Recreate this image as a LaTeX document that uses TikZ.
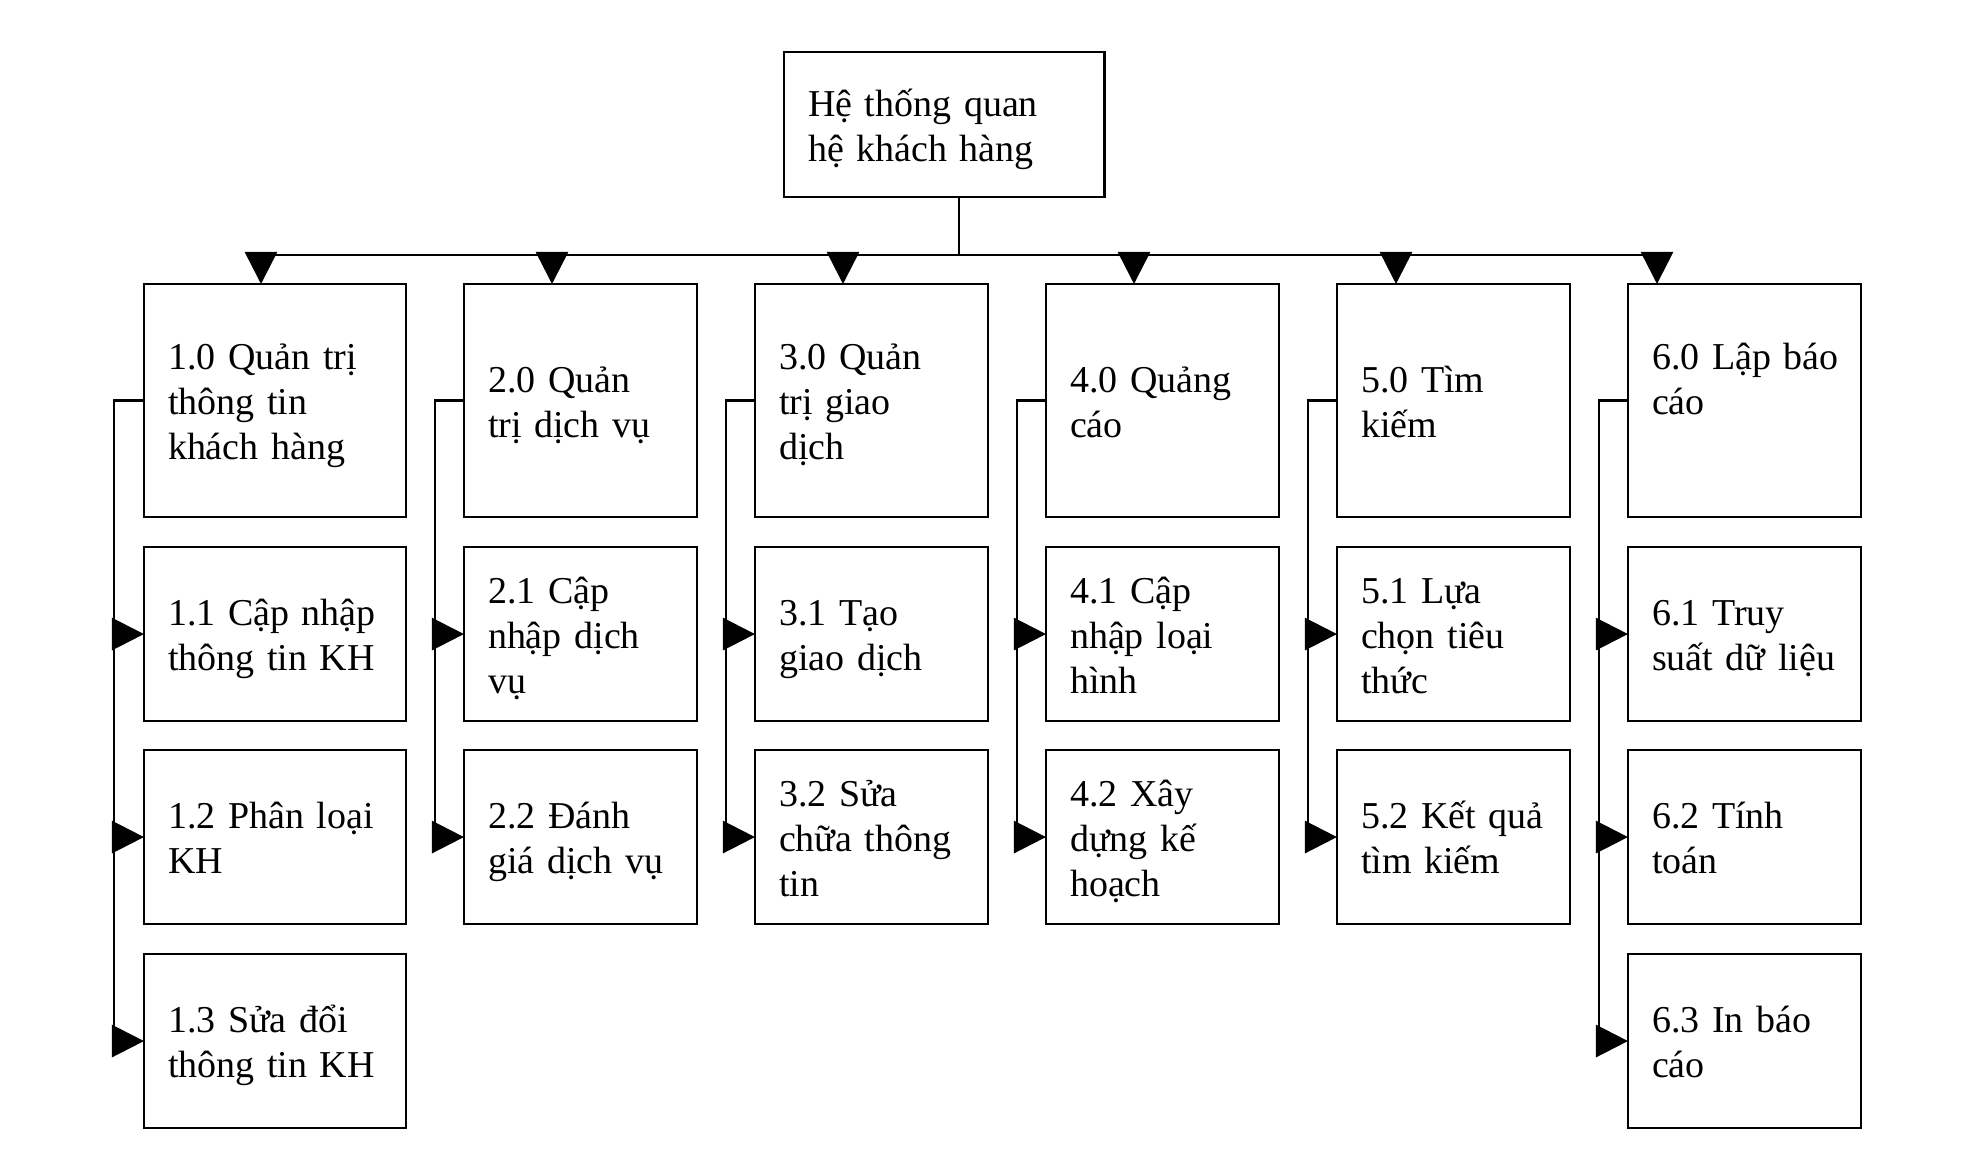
\documentclass[tikz,border=0pt]{standalone}
\usepackage{fontspec}
\setmainfont{Liberation Serif}
\usetikzlibrary{arrows.meta}

\tikzset{
	box/.style = {draw, anchor = north west, align = left, inner xsep = 0.24cm, inner ysep = 0pt, outer sep = 0pt, font = \fontsize{10.8pt}{12.8pt}\selectfont,
		execute at begin node = {\rightskip = 0pt plus 1fil minus 1cm\relax\rule{0pt}{0.4cm}},
		execute at end node = {\rule[-0.12cm]{0pt}{0.12cm}}},
	wide/.style = {text width = 2.14cm},
	narrow/.style = {text width = 1.85cm},
	head/.style = {minimum height = 2.33cm},
	leaf/.style = {minimum height = 1.74cm}
}

\begin{document}
\begin{tikzpicture}[x = 0.01cm, y = -0.01cm, line width = 0.75pt, > = {Triangle[length = 0.32cm, width = 0.32cm]}]

	\useasboundingbox (0, 0) rectangle (1975, 1157);

	% Root of the tree
	
	\node [box, text width = 2.72cm, minimum height = 1.45cm] (root) at (784, 52) {Hệ thống quan\\hệ khách hàng};
	
	% Column 1
	
	\node [box, wide, head] (task-1) at (144, 284) {1.0 Quản trị\\thông tin\\khách hàng};
	\node [box, wide, leaf] (task-1-1) at (144, 547) {1.1 Cập nhập\\thông tin KH};
	\node [box, wide, leaf] (task-1-2) at (144, 750) {1.2 Phân loại\\KH};
	\node [box, wide, leaf] (task-1-3) at (144, 954) {1.3 Sửa đổi\\thông tin KH};
	
	% Column 2
	
	\node [box, narrow, head] (task-2) at (464, 284) {2.0 Quản\\trị dịch vụ};
	\node [box, narrow, leaf] (task-2-1) at (464, 547) {2.1 Cập\\nhập dịch\\vụ};
	\node [box, narrow, leaf] (task-2-2) at (464, 750) {2.2 Đánh\\giá dịch vụ};
	
	% Column 3
	
	\node [box, narrow, head] (task-3) at (755, 284) {3.0 Quản\\trị giao\\dịch};
	\node [box, narrow, leaf] (task-3-1) at (755, 547) {3.1 Tạo\\giao dịch};
	\node [box, narrow, leaf] (task-3-2) at (755, 750) {3.2 Sửa\\chữa thông\\tin};
	
	% Column 4
	
	\node [box, narrow, head] (task-4) at (1046, 284) {4.0 Quảng\\cáo};
	\node [box, narrow, leaf] (task-4-1) at (1046, 547) {4.1 Cập\\nhập loại\\hình};
	\node [box, narrow, leaf] (task-4-2) at (1046, 750) {4.2 Xây\\dựng kế\\hoạch};
	
	% Column 5
	
	\node [box, narrow, head] (task-5) at (1337, 284) {5.0 Tìm\\kiếm};
	\node [box, narrow, leaf] (task-5-1) at (1337, 547) {5.1 Lựa\\chọn tiêu\\thức};
	\node [box, narrow, leaf] (task-5-2) at (1337, 750) {5.2 Kết quả\\tìm kiếm};
	
	% Column 6
	
	\node [box, narrow, head] (task-6) at (1628, 284) {6.0 Lập báo\\cáo\\\mbox{}};
	\node [box, narrow, leaf] (task-6-1) at (1628, 547) {6.1 Truy\\suất dữ liệu};
	\node [box, narrow, leaf] (task-6-2) at (1628, 750) {6.2 Tính\\toán};
	\node [box, narrow, leaf] (task-6-3) at (1628, 954) {6.3 In báo\\cáo};
	
	% Horizontal bus under the root
	
	\coordinate (hub) at (959, 255);
	\coordinate (drop-1) at (261, 255);
	\coordinate (drop-2) at (552, 255);
	\coordinate (drop-3) at (843, 255);
	\coordinate (drop-4) at (1134, 255);
	\coordinate (drop-5) at (1396, 255);
	\coordinate (drop-6) at (1657, 255);
	
	\draw (hub |- root.south) -- (hub);
	\draw (drop-1) -- (drop-6);
	\draw [->] (drop-1) -- (drop-1 |- task-1.north);
	\draw [->] (drop-2) -- (drop-2 |- task-2.north);
	\draw [->] (drop-3) -- (drop-3 |- task-3.north);
	\draw [->] (drop-4) -- (drop-4 |- task-4.north);
	\draw [->] (drop-5) -- (drop-5 |- task-5.north);
	\draw [->] (drop-6) -- (drop-6 |- task-6.north);
	
	% Side rails to the sub-tasks
	
	\coordinate (rail-1) at (114, 0);
	\coordinate (rail-2) at (435, 0);
	\coordinate (rail-3) at (726, 0);
	\coordinate (rail-4) at (1017, 0);
	\coordinate (rail-5) at (1308, 0);
	\coordinate (rail-6) at (1599, 0);
	
	\draw (task-1.west) -- (task-1.west -| rail-1) -- (task-1-3.west -| rail-1);
	\draw [->] (task-1-1.west -| rail-1) -- (task-1-1.west);
	\draw [->] (task-1-2.west -| rail-1) -- (task-1-2.west);
	\draw [->] (task-1-3.west -| rail-1) -- (task-1-3.west);
	
	\draw (task-2.west) -- (task-2.west -| rail-2) -- (task-2-2.west -| rail-2);
	\draw [->] (task-2-1.west -| rail-2) -- (task-2-1.west);
	\draw [->] (task-2-2.west -| rail-2) -- (task-2-2.west);
	
	\draw (task-3.west) -- (task-3.west -| rail-3) -- (task-3-2.west -| rail-3);
	\draw [->] (task-3-1.west -| rail-3) -- (task-3-1.west);
	\draw [->] (task-3-2.west -| rail-3) -- (task-3-2.west);
	
	\draw (task-4.west) -- (task-4.west -| rail-4) -- (task-4-2.west -| rail-4);
	\draw [->] (task-4-1.west -| rail-4) -- (task-4-1.west);
	\draw [->] (task-4-2.west -| rail-4) -- (task-4-2.west);
	
	\draw (task-5.west) -- (task-5.west -| rail-5) -- (task-5-2.west -| rail-5);
	\draw [->] (task-5-1.west -| rail-5) -- (task-5-1.west);
	\draw [->] (task-5-2.west -| rail-5) -- (task-5-2.west);
	
	\draw (task-6.west) -- (task-6.west -| rail-6) -- (task-6-3.west -| rail-6);
	\draw [->] (task-6-1.west -| rail-6) -- (task-6-1.west);
	\draw [->] (task-6-2.west -| rail-6) -- (task-6-2.west);
	\draw [->] (task-6-3.west -| rail-6) -- (task-6-3.west);

\end{tikzpicture}
\end{document}
